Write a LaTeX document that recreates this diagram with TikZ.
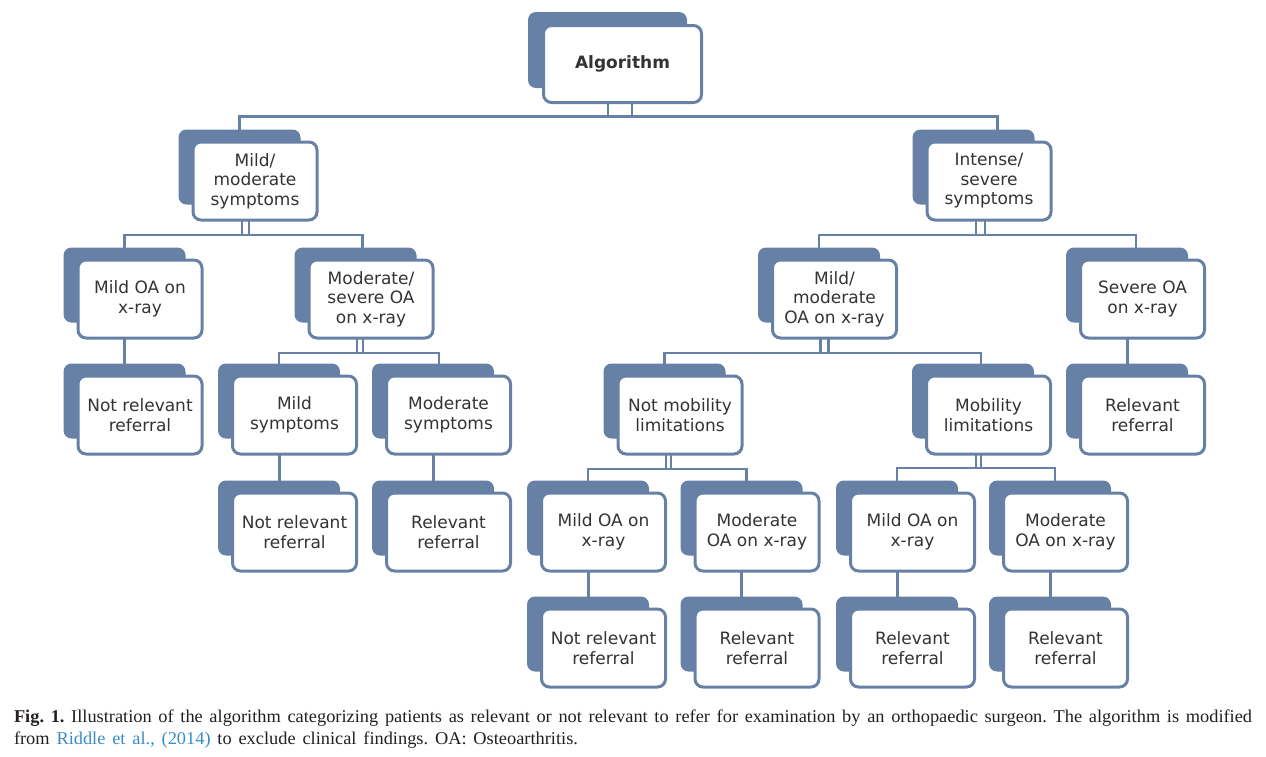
\documentclass[tikz,border=0pt]{standalone}
\usepackage{fontspec}
\setmainfont[FakeStretch=1.02]{Liberation Serif}
\newfontfamily\boxfont{DejaVu Sans}
\usetikzlibrary{calc}
\definecolor{accent}{HTML}{6781A6}
\definecolor{txt}{HTML}{333333}
\definecolor{captxt}{HTML}{231F20}
\definecolor{linkblue}{HTML}{3A8CC8}
\pgfdeclarelayer{bg}
\pgfsetlayers{bg,main}
\newcommand\tb[4]{%
  \node[backbox] (#1-bk) at (#2-15.5,#3-14) {};
  \node[frontbox] (#1) at (#2,#3) {#4};}
\newcommand\twoconn[6]{%
  \draw[conn] ([xshift=#4pt+#5pt]#1.south) -- ++(0,#6) -| (#2-bk.north);
  \draw[conn] ([xshift=#4pt]#1.south) -- ++(0,#6) -| ([xshift=#5pt]#3-bk.north);}
\newcommand\oneconn[2]{\draw[single] (#1.south -| #2-bk.north) -- (#2-bk.north);}
\begin{document}
\frenchspacing
\begin{tikzpicture}[x=1pt,y=-1pt,
  frontbox/.style={draw=accent, line width=3pt, fill=white, rounded corners=8pt,
    minimum width=124pt, minimum height=78pt, inner sep=0pt, outer sep=0pt,
    align=center, text=txt, font=\boxfont\fontsize{17}{19.5}\selectfont},
  backbox/.style={fill=accent, rounded corners=8pt, minimum width=122pt,
    minimum height=75pt, inner sep=0pt, outer sep=0pt},
  conn/.style={draw=accent, line width=2.5pt},
  single/.style={draw=accent, line width=3pt},
  captext/.style={anchor=base west, inner sep=0pt, outer sep=0pt, text=captxt,
    font=\fontsize{18}{22}\selectfont}]
\useasboundingbox (0,0) rectangle (1266,756);

% root
\node[backbox, minimum width=159pt, minimum height=76pt] (alg-bk) at (607.5,50) {};
\node[frontbox, minimum width=158pt, minimum height=77pt,
  font=\boxfont\bfseries\fontsize{17}{19.5}\selectfont] (alg) at (622.5,64) {Algorithm};

\tb{ms}{255}{181}{Mild/\\moderate\\symptoms}
\tb{is}{989}{181}{Intense/\\severe\\symptoms}
\tb{moa}{140}{299}{Mild OA on\\x-ray}
\tb{msoa}{371}{299}{Moderate/\\severe OA\\on x-ray}
\tb{mmoa}{834.5}{299}{Mild/\\moderate\\OA on x-ray}
\tb{soa}{1142.5}{299}{Severe OA\\on x-ray}
\tb{nra}{140}{415}{Not relevant\\referral}
\tb{msy}{294.5}{415}{Mild\\symptoms}
\tb{mosy}{448.5}{415}{Moderate\\symptoms}
\tb{nml}{680}{415}{Not mobility\\limitations}
\tb{ml}{988.5}{415}{Mobility\\limitations}
\tb{rra}{1142.5}{415}{Relevant\\referral}
\tb{nrb}{294.5}{532}{Not relevant\\referral}
\tb{rrb}{448.5}{532}{Relevant\\referral}
\tb{mildb}{603.5}{532}{Mild OA on\\x-ray}
\tb{modb}{757}{532}{Moderate\\OA on x-ray}
\tb{mildc}{912.5}{532}{Mild OA on\\x-ray}
\tb{modc}{1065.5}{532}{Moderate\\OA on x-ray}
\tb{nrc}{603.5}{648}{Not relevant\\referral}
\tb{rrc}{757}{648}{Relevant\\referral}
\tb{rrd}{912.5}{648}{Relevant\\referral}
\tb{rre}{1065.5}{648}{Relevant\\referral}

\begin{pgfonlayer}{bg}
\twoconn{alg}{ms}{is}{-14.5}{24}{14}
\twoconn{ms}{moa}{msoa}{-13}{7}{15}
\twoconn{is}{mmoa}{soa}{-13}{9}{15}
\twoconn{msoa}{msy}{mosy}{-14}{6}{15}
\twoconn{mmoa}{nml}{ml}{-14}{8}{15}
\twoconn{nml}{mildb}{modb}{-14}{5}{15}
\twoconn{ml}{mildc}{modc}{-12.5}{5}{14}
\oneconn{moa}{nra}
\oneconn{soa}{rra}
\oneconn{msy}{nrb}
\oneconn{mosy}{rrb}
\oneconn{mildb}{nrc}
\oneconn{modb}{rrc}
\oneconn{mildc}{rrd}
\oneconn{modc}{rre}
\end{pgfonlayer}

% caption
\node[captext] (capa) at (14,722) {\makebox[1238pt][s]{\textbf{Fig. 1.} Illustration of the algorithm categorizing patients as relevant or not relevant to refer for examination by an orthopaedic surgeon. The algorithm is modified}};
\node[captext] (capb) at (14,744) {\makebox[564pt][s]{from \textcolor{linkblue}{Riddle et al., (2014)} to exclude clinical findings. OA: Osteoarthritis.}};
\end{tikzpicture}
\end{document}
